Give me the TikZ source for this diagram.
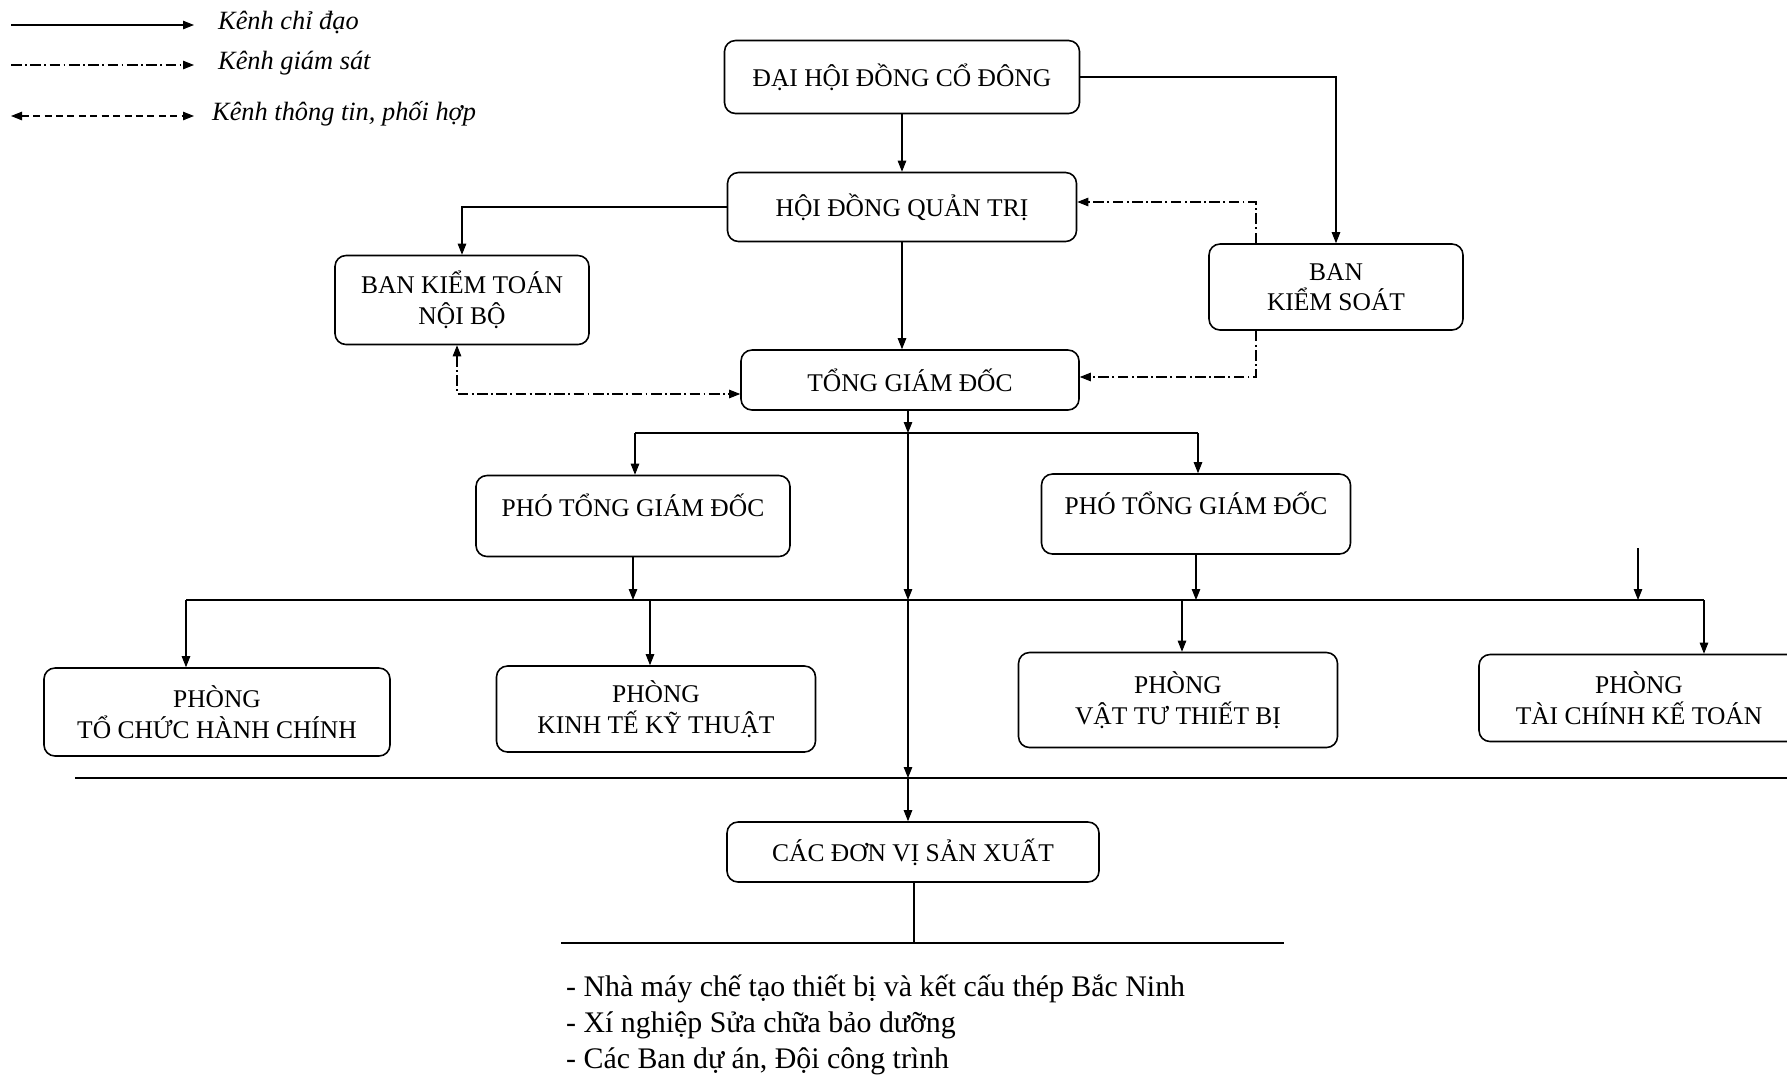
\documentclass[tikz,border=0pt]{standalone}
\usepackage{fontspec}
\setmainfont{Liberation Serif}
\usetikzlibrary{arrows.meta}

\tikzset{
  khung/.style={draw, rounded corners=2.2mm, line width=0.9pt, align=center,
    font=\fontsize{14.5}{17.4}\selectfont},
  tip/.tip={Triangle[length=2.2mm,width=1.7mm]},
  chidao/.style={-tip, line width=0.6pt},
  giamsat/.style={-tip, line width=0.6pt, dash pattern=on 6pt off 2pt on 1pt off 2pt},
  phoihop/.style={tip-tip, line width=0.6pt, dash pattern=on 4pt off 2.5pt},
  duong/.style={line width=0.7pt},
  chu/.style={font=\itshape\fontsize{15}{18}\selectfont, anchor=west}
}

\begin{document}
\begin{tikzpicture}[x=0.2mm,y=-0.2mm]
\useasboundingbox (0,0) rectangle (1787,1076);

% chu thich
\coordinate (l1a) at (11,25);  \coordinate (l1b) at (194,25);
\coordinate (l2a) at (11,65);  \coordinate (l2b) at (194,65);
\coordinate (l3a) at (11,116); \coordinate (l3b) at (194,116);
\draw[chidao] (l1a) -- (l1b);
\draw[giamsat] (l2a) -- (l2b);
\draw[phoihop] (l3a) -- (l3b);
\node[chu] (t1) at (212,23) {Kênh chỉ đạo};
\node[chu] (t2) at (212,63) {Kênh giám sát};
\node[chu] (t3) at (206,114) {Kênh thông tin, phối hợp};

% cac khoi
\node[khung, minimum width=71mm, minimum height=14.6mm] (dhdcd) at (902,77) {ĐẠI HỘI ĐỒNG CỔ ĐÔNG};
\node[khung, minimum width=69.8mm, minimum height=13.8mm] (hdqt) at (902,207) {HỘI ĐỒNG QUẢN TRỊ};
\node[khung, minimum width=50.8mm, minimum height=17.8mm] (bktnb) at (462,300) {BAN KIỂM TOÁN\\NỘI BỘ};
\node[khung, minimum width=50.8mm, minimum height=17.2mm] (bks) at (1336,287) {BAN\\KIỂM SOÁT};
\node[khung, minimum width=67.6mm, minimum height=12mm] (tgd) at (910,380) {TỔNG GIÁM ĐỐC};
\node[khung, minimum width=62.8mm, minimum height=16.2mm, text depth=4.5mm] (ptgd1) at (633,516) {PHÓ TỔNG GIÁM ĐỐC};
\node[khung, minimum width=61.8mm, minimum height=16mm, text depth=4.5mm] (ptgd2) at (1196,514) {PHÓ TỔNG GIÁM ĐỐC};
\node[khung, minimum width=69.2mm, minimum height=17.6mm] (ptchc) at (217,712) {PHÒNG\\TỔ CHỨC HÀNH CHÍNH};
\node[khung, minimum width=63.8mm, minimum height=17.2mm] (pktkt) at (656,709) {PHÒNG\\KINH TẾ KỸ THUẬT};
\node[khung, minimum width=63.8mm, minimum height=19mm] (pvttb) at (1178,700) {PHÒNG\\VẬT TƯ THIẾT BỊ};
\node[khung, minimum width=64mm, minimum height=17.4mm] (ptckt) at (1639,698) {PHÒNG\\TÀI CHÍNH KẾ TOÁN};
\node[khung, minimum width=74.4mm, minimum height=12mm] (cdvsx) at (913,852) {CÁC ĐƠN VỊ SẢN XUẤT};

% diem re nhanh
\coordinate (b1) at (908,433);
\coordinate (b1l) at (635,433);
\coordinate (b1r) at (1198,433);
\coordinate (b2) at (908,600);
\coordinate (b2a) at (186,600);
\coordinate (b2b) at (650,600);
\coordinate (b2c) at (1182,600);
\coordinate (b2e) at (1704,600);
\coordinate (b2d) at (1638,600);
\coordinate (tu) at (1638,548);
\coordinate (b3) at (908,778);
\coordinate (b3a) at (75,778);
\coordinate (b3b) at (1787,778);
\coordinate (b4) at (914,943);
\coordinate (b4a) at (561,943);
\coordinate (b4b) at (1284,943);

% kenh chi dao
\draw[chidao] (dhdcd.south) -- (hdqt.north);
\draw[chidao] (dhdcd.east) -| (bks.north);
\draw[chidao] (hdqt.west) -| (bktnb.north);
\draw[chidao] (hdqt.south) -- (hdqt.south |- tgd.north);
\draw[chidao] (tgd.south -| b1) -- (b1);
\draw[duong] (b1l) -- (b1r);
\draw[chidao] (b1l) -- (b1l |- ptgd1.north);
\draw[chidao] (b1r) -- (b1r |- ptgd2.north);
\draw[chidao] (b1) -- (b2);
\draw[chidao] (ptgd1.south) -- (ptgd1.south |- b2);
\draw[chidao] (ptgd2.south) -- (ptgd2.south |- b2);
\draw[chidao] (tu) -- (b2d);
\draw[duong] (b2a) -- (b2e);
\draw[chidao] (b2a) -- (b2a |- ptchc.north);
\draw[chidao] (b2b) -- (b2b |- pktkt.north);
\draw[chidao] (b2c) -- (b2c |- pvttb.north);
\draw[chidao] (b2e) -- (b2e |- ptckt.north);
\draw[chidao] (b2) -- (b3);
\draw[duong] (b3a) -- (b3b);
\draw[chidao] (b3) -- (b3 |- cdvsx.north);
\draw[duong] (cdvsx.south -| b4) -- (b4);
\draw[duong] (b4a) -- (b4b);

% kenh giam sat
\draw[giamsat] ([xshift=-16mm]bks.north) |- ([yshift=1mm]hdqt.east);
\draw[giamsat] ([xshift=-16mm]bks.south) |- ([yshift=0.6mm]tgd.east);
\draw[phoihop, dash pattern=on 6pt off 2pt on 1pt off 2pt] ([xshift=-1mm]bktnb.south) |- ([yshift=-2.8mm]tgd.west);

% don vi san xuat
\node[anchor=west, align=left, font=\fontsize{17}{20.4}\selectfont] (dsdv) at (560,1025)
  {- Nhà máy chế tạo thiết bị và kết cấu thép Bắc Ninh\\
   - Xí nghiệp Sửa chữa bảo dưỡng\\
   - Các Ban dự án, Đội công trình};
\end{tikzpicture}
\end{document}
